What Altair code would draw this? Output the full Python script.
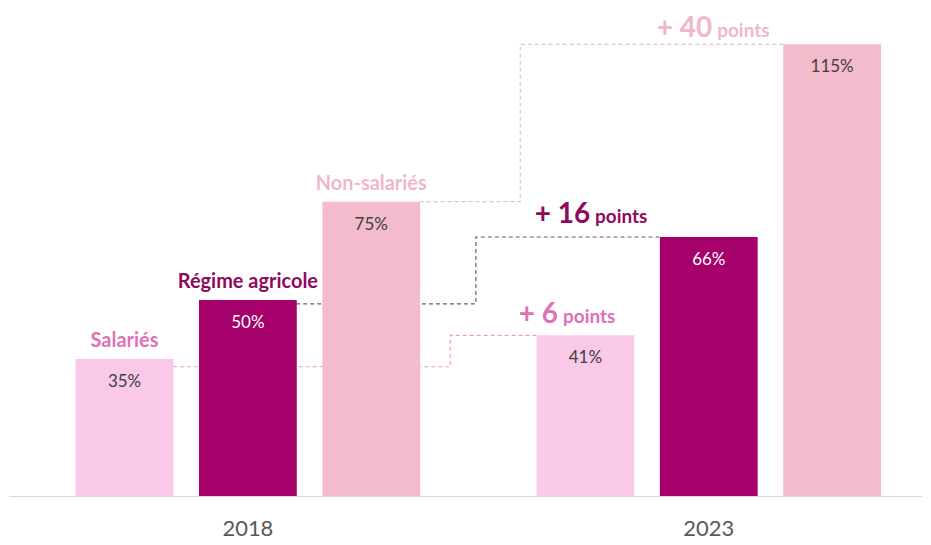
import altair as alt
import pandas as pd

categories = ["Salariés", "Régime agricole", "Non-salariés"]
years = ["2018", "2023"]
values_2018 = [35, 50, 75]
values_2023 = [41, 66, 115]
pos_2018 = [0, 1, 2]
pos_2023 = [3.736, 4.736, 5.736]
year_centers = [1, 4.736]
delta_big = ["+ 6", "+ 16", "+ 40"]
delta_small = ["points", "points", "points"]
delta_x = [3.53, 3.79, 4.78]
delta_y = [44.2, 69.5, 116.8]
step_x = [2.64, 2.848, 3.208]
step_start_y = [33, 49, 75]

bar_colors = ["#FAC8E8", "#A6006B", "#F3BBCC"]
label_colors = ["#E070B8", "#8E0A5C", "#F2B6C9"]
value_colors = ["#404040", "#FFFFFF", "#404040"]
dash_colors = ["#E3A0CB", "#6E5A68", "#D9C6CF"]

FONT = "Lato"
HALF = 0.392

rows = []
for i, c in enumerate(categories):
    rows.append(dict(cat=c, year="2018", pos=pos_2018[i], value=values_2018[i],
                     bar_color=bar_colors[i], label_color=label_colors[i],
                     value_color=value_colors[i], vlabel=f"{values_2018[i]}%"))
    rows.append(dict(cat=c, year="2023", pos=pos_2023[i], value=values_2023[i],
                     bar_color=bar_colors[i], label_color=label_colors[i],
                     value_color=value_colors[i], vlabel=f"{values_2023[i]}%"))
bars_df = pd.DataFrame(rows)
cat2018 = bars_df[bars_df.year == "2018"]

step_rows = []
for i, c in enumerate(categories):
    pts = [(pos_2018[i] + HALF, step_start_y[i]),
           (step_x[i], step_start_y[i]),
           (step_x[i], values_2023[i]),
           (pos_2023[i] - HALF, values_2023[i])]
    for k, (x, y) in enumerate(pts):
        step_rows.append(dict(cat=c, order=k, x=x, y=y))
steps_df = pd.DataFrame(step_rows)

delta_df = pd.DataFrame(dict(cat=categories, big=delta_big, small=delta_small,
                             x=delta_x, y=delta_y, color=label_colors))
year_df = pd.DataFrame(dict(year=years, x=year_centers))

xs = alt.Scale(domain=[-0.896, 6.424], nice=False, zero=False)
ys = alt.Scale(domain=[-10.15, 124.1], nice=False, zero=False)

lines = alt.Chart(steps_df).mark_line(strokeDash=[4, 3], strokeWidth=1.2).encode(
    x=alt.X("x:Q", scale=xs, axis=None),
    y=alt.Y("y:Q", scale=ys, axis=None),
    detail="cat:N",
    order="order:Q",
    color=alt.Color("cat:N", scale=alt.Scale(domain=categories, range=dash_colors), legend=None),
)

bars = alt.Chart(bars_df).mark_bar(size=98).encode(
    x=alt.X("pos:Q", scale=xs, axis=None),
    y=alt.Y("value:Q", scale=ys, axis=None),
    color=alt.Color("bar_color:N", scale=None),
)

vlabels = alt.Chart(bars_df).mark_text(font=FONT, fontSize=17, baseline="middle", dy=23).encode(
    x=alt.X("pos:Q", scale=xs),
    y=alt.Y("value:Q", scale=ys),
    text="vlabel:N",
    color=alt.Color("value_color:N", scale=None),
)

clabels = alt.Chart(cat2018).mark_text(font=FONT, fontSize=20, fontWeight="bold",
                                       baseline="middle", dy=-18).encode(
    x=alt.X("pos:Q", scale=xs),
    y=alt.Y("value:Q", scale=ys),
    text="cat:N",
    color=alt.Color("label_color:N", scale=None),
)

dbig = alt.Chart(delta_df).mark_text(font=FONT, fontSize=28, fontWeight="bold",
                                     align="right", baseline="alphabetic", dx=-2).encode(
    x=alt.X("x:Q", scale=xs),
    y=alt.Y("y:Q", scale=ys),
    text="big:N",
    color=alt.Color("color:N", scale=None),
)
dsmall = alt.Chart(delta_df).mark_text(font=FONT, fontSize=19, fontWeight="bold",
                                       align="left", baseline="alphabetic", dx=3).encode(
    x=alt.X("x:Q", scale=xs),
    y=alt.Y("y:Q", scale=ys),
    text="small:N",
    color=alt.Color("color:N", scale=None),
)

baseline = alt.Chart(year_df).mark_rule(color="#D9D9D9", strokeWidth=1.2).encode(
    y=alt.datum(0, scale=ys)
)

ylabels = alt.Chart(year_df).mark_text(font=FONT, fontSize=22, color="#595959",
                                       baseline="middle", dy=33).encode(
    x=alt.X("x:Q", scale=xs),
    y=alt.datum(0, scale=ys),
    text="year:N",
)

chart = alt.layer(lines, bars, vlabels, clabels, dbig, dsmall, baseline, ylabels).properties(
    width=915, height=529, padding=0, background="white"
).configure_view(stroke=None)

chart.save("out.html", embed_options={"renderer": "svg", "actions": False})
